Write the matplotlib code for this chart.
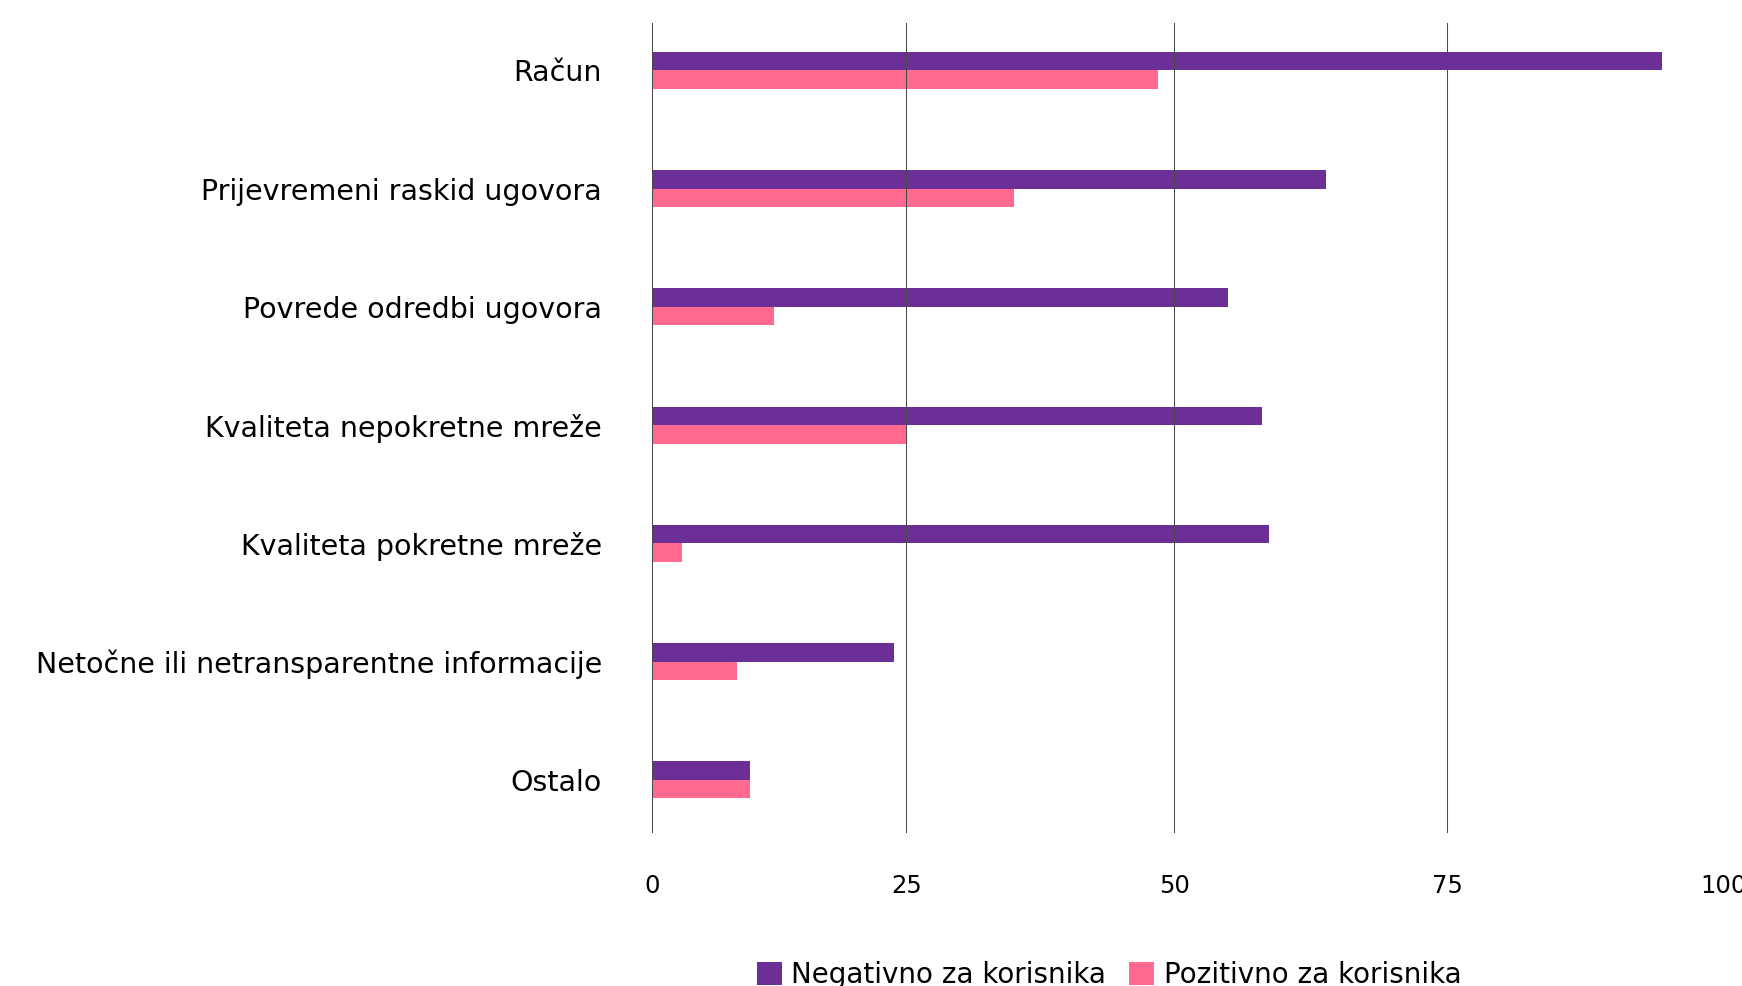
import numpy as np
import matplotlib.pyplot as plt

# data
categories = ["Račun", "Prijevremeni raskid ugovora", "Povrede odredbi ugovora",
              "Kvaliteta nepokretne mreže", "Kvaliteta pokretne mreže",
              "Netočne ili netransparentne informacije", "Ostalo"]
negativno = [94.4, 63.9, 55.0, 58.1, 58.7, 23.8, 10.0]
pozitivno = [48.5, 35.1, 12.3, 25.0, 3.2, 8.7, 10.0]
x_ticks = [0, 25, 50, 75, 100]
series_names = ["Negativno za korisnika", "Pozitivno za korisnika"]

purple = "#6b2f97"
pink = "#ff6a8e"

plt.rcParams['font.family'] = ['DejaVu Sans']

fig = plt.figure(figsize=(17.42, 9.86), dpi=100)
ax = fig.add_axes([0.3742, 0.1555, 0.6153, 0.8207])

# the reference axis is slightly stretched towards the top end
k = 1.037
ax.set_xscale('function', functions=(lambda v: np.sign(v) * np.abs(v) ** k,
                                     lambda v: np.sign(v) * np.abs(v) ** (1 / k)))

y = np.arange(len(categories))
h = 0.156
ax.barh(y - h / 2, negativno, height=h, color=purple, label=series_names[0])
ax.barh(y + h / 2, pozitivno, height=h, color=pink, label=series_names[1])

ax.set_xlim(0, 100)
ax.set_ylim(6.446, -0.397)
ax.set_xticks(x_ticks)
ax.set_yticks(y)
ax.set_yticklabels(categories, fontsize=20.5)
ax.tick_params(axis='y', length=0, pad=36)
ax.tick_params(axis='x', length=0, pad=30, labelsize=17.5)

ax.set_axisbelow(False)
ax.grid(axis='x', color='#4a4a4a', linewidth=0.75)
for s in ax.spines.values():
    s.set_visible(False)

fig.legend(loc='center', bbox_to_anchor=(0.6366, 0.011), ncol=2, frameon=False,
           fontsize=20, handlelength=0.9, handleheight=0.9,
           handletextpad=0.33, columnspacing=0.85)

fig.savefig("out.png", dpi=100)
